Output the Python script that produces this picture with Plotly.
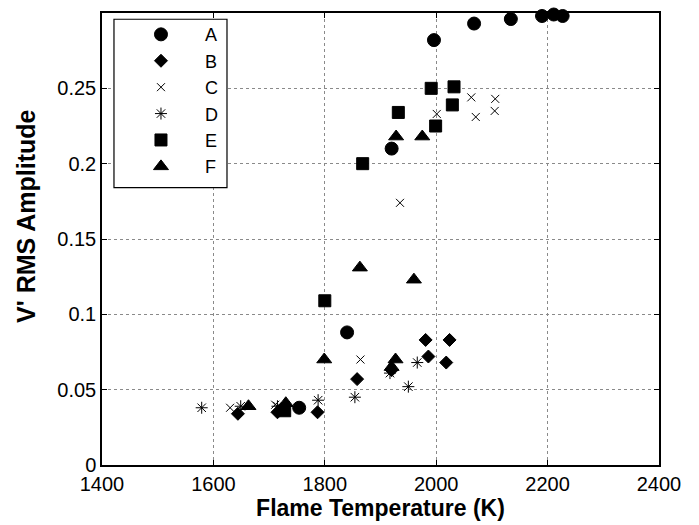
import plotly.graph_objects as go

# Flame temperature (K) and V' RMS amplitude for each case
A_T = [1754, 1840, 1920, 1996, 2068, 2134, 2190, 2211, 2227]
A_V = [0.038, 0.088, 0.210, 0.282, 0.293, 0.296, 0.298, 0.299, 0.298]

B_T = [1644, 1715, 1787, 1858, 1920, 1981, 2024, 1986, 2018]
B_V = [0.034, 0.035, 0.035, 0.057, 0.063, 0.083, 0.083, 0.072, 0.068]

C_T = [1630, 1711, 1864, 1935, 2001, 2063, 2106, 2071, 2105]
C_V = [0.038, 0.040, 0.070, 0.174, 0.233, 0.244, 0.243, 0.231, 0.235]

D_T = [1579, 1649, 1715, 1788, 1854, 1917, 1950, 1966]
D_V = [0.038, 0.039, 0.039, 0.043, 0.045, 0.061, 0.052, 0.068]

E_T = [1728, 1800, 1868, 1932, 1991, 2032, 2029, 1999]
E_V = [0.036, 0.109, 0.200, 0.234, 0.250, 0.251, 0.239, 0.225]

F_T = [1663, 1730, 1799, 1863, 1920, 1927, 1928, 1960, 1975]
F_V = [0.039, 0.041, 0.070, 0.131, 0.065, 0.070, 0.218, 0.123, 0.218]

x_ticks = [1400, 1600, 1800, 2000, 2200, 2400]
y_ticks = [0, 0.05, 0.1, 0.15, 0.2, 0.25]
y_tick_labels = ["0", "0.05", "0.1", "0.15", "0.2", "0.25"]

series = [
    ("A", A_T, A_V, "circle", 13),
    ("B", B_T, B_V, "diamond", 10),
    ("C", C_T, C_V, "x-thin", 8),
    ("D", D_T, D_V, "asterisk", 10),
    ("E", E_T, E_V, "square", 12),
    ("F", F_T, F_V, "triangle-up", 13),
]

FONT = "Liberation Sans, Arial, sans-serif"

fig = go.Figure()
for name, xs, ys, sym, size in series:
    fig.add_trace(go.Scatter(
        x=xs, y=ys, mode="markers", name=name, cliponaxis=False,
        marker=dict(symbol=sym, size=size, color="black",
                    line=dict(color="black", width=1)),
    ))

axis_common = dict(
    showline=True, linecolor="black", linewidth=1.5, mirror="ticks",
    ticks="inside", ticklen=5, tickcolor="black", tickwidth=1,
    showgrid=True, gridcolor="#8a8a8a", griddash="dot", gridwidth=1,
    zeroline=False, tickfont=dict(family=FONT, size=20, color="black"),
)

fig.update_xaxes(range=[1400, 2400], tickvals=x_ticks,
                 title=dict(text="<b>Flame Temperature (K)</b>",
                            font=dict(family=FONT, size=23, color="black"),
                            standoff=3),
                 **axis_common)
fig.update_yaxes(range=[0, 0.3], tickvals=y_ticks, ticktext=y_tick_labels,
                 **axis_common)

# y-axis title as a rotated text annotation (positioned like the reference)
fig.add_annotation(
    text="<b>V' RMS Amplitude</b>", textangle=-90, showarrow=False,
    xref="paper", yref="paper", x=-0.1364, y=0.549,
    xanchor="center", yanchor="middle",
    font=dict(family=FONT, size=25, color="black"),
)

# legend frame
fig.add_shape(type="rect", xref="paper", yref="paper",
              x0=0.0215, x1=0.2244, y0=0.6138, y1=0.9862,
              line=dict(color="black", width=1.2), fillcolor="white",
              layer="above")

fig.update_layout(
    width=699, height=525,
    margin=dict(l=102, r=40, t=11, b=59),
    paper_bgcolor="white", plot_bgcolor="white",
    legend=dict(x=0.0269, y=0.993, xanchor="left", yanchor="top",
                bgcolor="rgba(0,0,0,0)", borderwidth=0,
                font=dict(family=FONT, size=18, color="black"),
                itemwidth=78),
    showlegend=True,
)

fig.write_html("out.html", config={"displayModeBar": False},
               post_script="document.body.style.margin='0px';document.body.style.overflow='hidden';")
